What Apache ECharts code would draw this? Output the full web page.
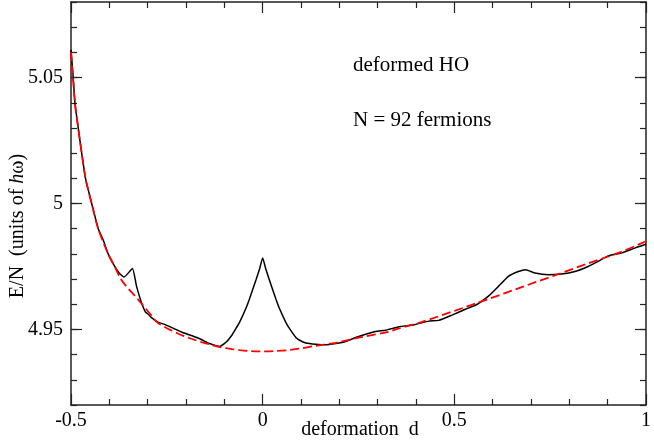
<!DOCTYPE html>
<html>
<head>
<meta charset="utf-8">
<script src="https://cdn.jsdelivr.net/npm/echarts@6/dist/echarts.min.js"></script>
<style>html,body{margin:0;padding:0;background:#fff}#c{width:654px;height:448px}</style>
</head>
<body>
<div id="c"></div>
<script>
// deformation d and E/N for the exact (shell-structured) curve
const dExact = [-0.5, -0.494, -0.4896, -0.481, -0.472, -0.462, -0.446, -0.429, -0.416, -0.403, -0.386, -0.375, -0.366, -0.3614, -0.3397, -0.329, -0.316, -0.306, -0.298, -0.290, -0.273, -0.26, -0.247, -0.23, -0.212, -0.19, -0.169, -0.155, -0.139, -0.1127, -0.095, -0.08, -0.0693, -0.0607, -0.0433, -0.0347, -0.0173, -0.008, 0, 0.008, 0.0173, 0.0347, 0.0433, 0.0607, 0.0693, 0.0867, 0.0953, 0.1127, 0.1387, 0.1647, 0.1907, 0.2167, 0.2427, 0.2687, 0.2947, 0.3207, 0.3535, 0.3985, 0.4332, 0.4592, 0.4938, 0.5285, 0.5587, 0.589, 0.615, 0.641, 0.6672, 0.686, 0.7105, 0.7451, 0.7797, 0.8145, 0.849, 0.875, 0.901, 0.9357, 0.9705, 1.0];
const eExact = [5.061, 5.0497, 5.0398, 5.0298, 5.0199, 5.0099, 5.000, 4.990, 4.9855, 4.980, 4.975, 4.9725, 4.9712, 4.9708, 4.9742, 4.9671, 4.9606, 4.9570, 4.9560, 4.9547, 4.9529, 4.9522, 4.9514, 4.9502, 4.9490, 4.9478, 4.9466, 4.9456, 4.9444, 4.9432, 4.9450, 4.9478, 4.9505, 4.9527, 4.9585, 4.9620, 4.9697, 4.9741, 4.9784, 4.9741, 4.9697, 4.9620, 4.9585, 4.9527, 4.9505, 4.9468, 4.9458, 4.9446, 4.9441, 4.9439, 4.9444, 4.9452, 4.9468, 4.9481, 4.9492, 4.9497, 4.9510, 4.9520, 4.9533, 4.9536, 4.9557, 4.9580, 4.9599, 4.9632, 4.9671, 4.9711, 4.9730, 4.9737, 4.9724, 4.9717, 4.9720, 4.9730, 4.9750, 4.9770, 4.9792, 4.9803, 4.9823, 4.9838];
// smooth (averaged) curve
const dSmooth = [-0.5, -0.4896, -0.481, -0.472, -0.462, -0.446, -0.429, -0.403, -0.386, -0.37, -0.355, -0.329, -0.316, -0.29, -0.2765, -0.25, -0.22, -0.19, -0.16, -0.13, -0.111, -0.08, -0.06, -0.03, 0, 0.03, 0.069, 0.1, 0.1387, 0.1907, 0.26, 0.3292, 0.3535, 0.4158, 0.5026, 0.589, 0.6757, 0.7625, 0.849, 0.9357, 1.0];
const eSmooth = [5.060, 5.0398, 5.0298, 5.0199, 5.0099, 5.000, 4.990, 4.980, 4.975, 4.9700, 4.9670, 4.9626, 4.9603, 4.9555, 4.9530, 4.9505, 4.9483, 4.9465, 4.9450, 4.9437, 4.9430, 4.9422, 4.9418, 4.9414, 4.9413, 4.9414, 4.9418, 4.9425, 4.9435, 4.9447, 4.9470, 4.9491, 4.9503, 4.9530, 4.9575, 4.9621, 4.9668, 4.9715, 4.9762, 4.9808, 4.9850];
const xTicks = [-0.5, 0, 0.5, 1];
const yTicks = [4.95, 5, 5.05];

const exact = dExact.map((d, i) => [d, eExact[i]]);
const smooth = dSmooth.map((d, i) => [d, eSmooth[i]]);

const FONT = 'Liberation Serif';
const frame = {show: true, onZero: false, lineStyle: {color: '#222', width: 1.5}};
const xBase = {type: 'value', min: -0.5, max: 1, interval: 0.5, splitLine: {show: false},
  axisLine: frame,
  axisTick: {inside: true, length: 11, lineStyle: {color: '#222', width: 1.2}},
  minorTick: {show: true, splitNumber: 5, length: 6, lineStyle: {color: '#222', width: 1.2}}};
const yMajor = {type: 'value', min: 4.92, max: 5.08, splitLine: {show: false}, axisLine: frame,
  axisTick: {inside: true, length: 11, customValues: yTicks, lineStyle: {color: '#222', width: 1.2}}};
const yMinor = {type: 'value', min: 4.92, max: 5.08, interval: 0.01, splitLine: {show: false},
  axisLine: {show: false, onZero: false}, axisLabel: {show: false},
  axisTick: {inside: true, length: 6, lineStyle: {color: '#222', width: 1.2}}};

const chart = echarts.init(document.getElementById('c'), null, {renderer: 'canvas'});
chart.setOption({
  animation: false,
  backgroundColor: '#fff',
  grid: {left: 71, top: 2, right: 6, bottom: 43, containLabel: false},
  xAxis: [
    Object.assign({}, xBase, {position: 'bottom',
      axisLabel: {show: true, margin: 6, color: '#000', fontFamily: FONT, fontSize: 20,
        customValues: xTicks, formatter: v => String(v)}}),
    Object.assign({}, xBase, {position: 'top', axisLabel: {show: false}})
  ],
  yAxis: [
    Object.assign({}, yMajor, {position: 'left',
      axisLabel: {show: true, margin: 8, color: '#000', fontFamily: FONT, fontSize: 20,
        customValues: yTicks, formatter: v => String(v)}}),
    Object.assign({}, yMinor, {position: 'left'}),
    Object.assign({}, yMajor, {position: 'right', axisLabel: {show: false}}),
    Object.assign({}, yMinor, {position: 'right'})
  ],
  series: [
    {type: 'line', data: exact, xAxisIndex: 0, yAxisIndex: 0, showSymbol: false, smooth: 0.15,
      lineStyle: {color: '#000', width: 1.5}, z: 2},
    {type: 'line', data: smooth, xAxisIndex: 0, yAxisIndex: 0, showSymbol: false, smooth: 0.3,
      lineStyle: {color: '#ff0000', width: 1.8, type: [9, 4]}, z: 3}
  ],
  graphic: [
    {type: 'text', x: 353, y: 65.5, style: {text: 'deformed HO', font: '21px "Liberation Serif"', fill: '#000', verticalAlign: 'middle'}},
    {type: 'text', x: 353, y: 120.5, style: {text: 'N = 92 fermions', font: '21px "Liberation Serif"', fill: '#000', verticalAlign: 'middle'}},
    {type: 'text', x: 360, y: 429.5, style: {text: 'deformation  d', font: '20px "Liberation Serif"', fill: '#000', align: 'center', verticalAlign: 'middle'}},
    {type: 'text', x: 18, y: 226, rotation: Math.PI / 2,
      style: {text: '{a|E/N  (units of }{i|h}{a|ω)}', align: 'center', verticalAlign: 'middle', fill: '#000',
        rich: {a: {fontFamily: FONT, fontSize: 20, fill: '#000'}, i: {fontFamily: FONT, fontSize: 20, fontStyle: 'italic', fill: '#000'}}}}
  ]
});
</script>
</body>
</html>
